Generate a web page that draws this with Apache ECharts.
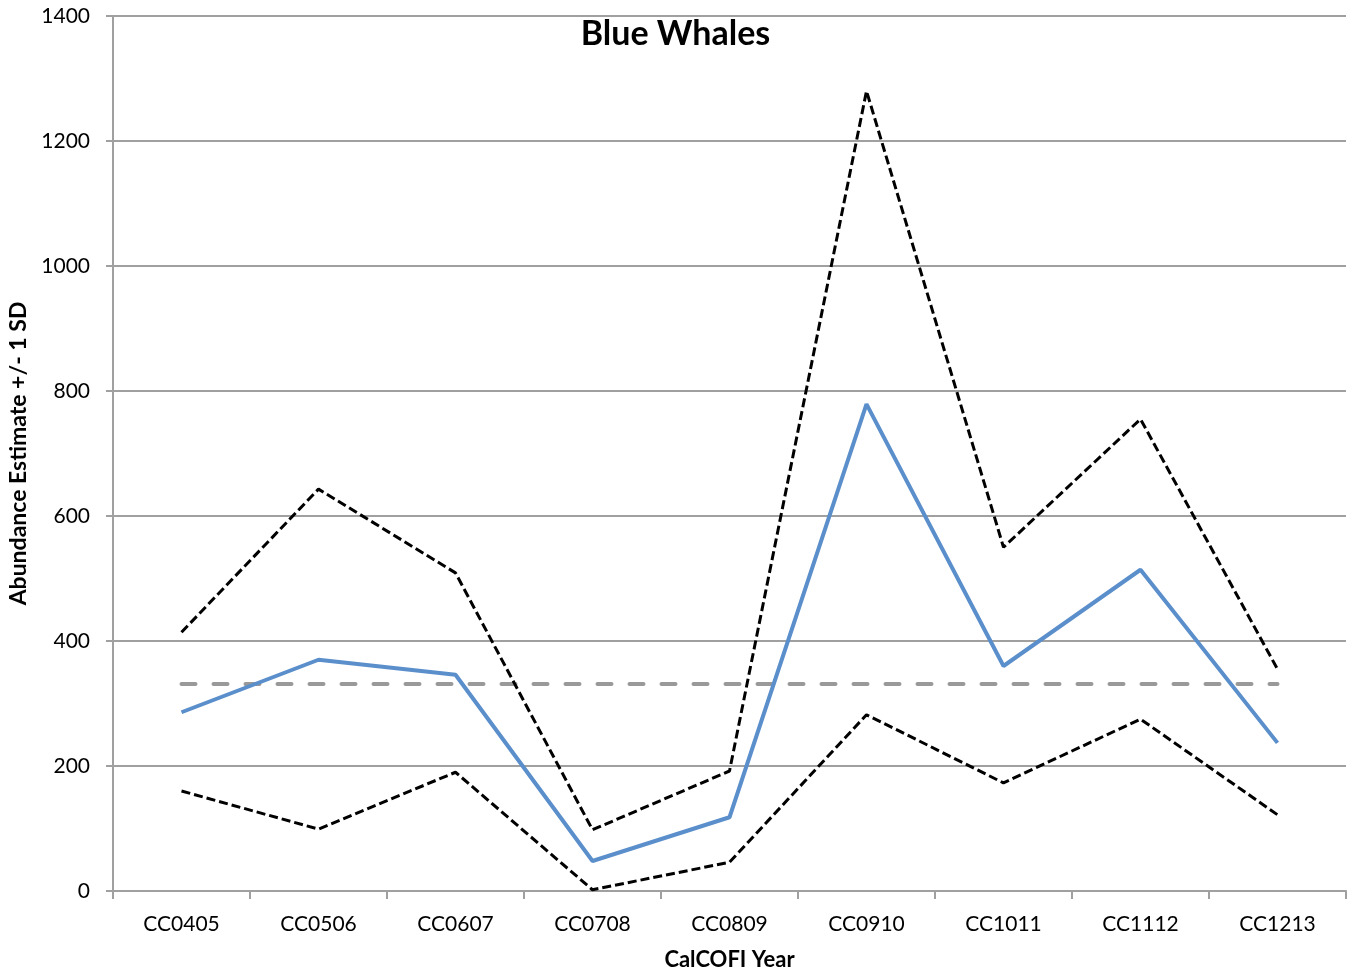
<!DOCTYPE html>
<html>
<head>
<meta charset="utf-8">
<script src="https://cdn.jsdelivr.net/npm/echarts@6/dist/echarts.min.js"></script>
<style>
  html, body { margin: 0; padding: 0; background: #fff; }
  #chart { width: 1351px; height: 972px; }
</style>
</head>
<body>
<div id="chart"></div>
<script>
// CalCOFI cruise labels
const years = ['CC0405', 'CC0506', 'CC0607', 'CC0708', 'CC0809', 'CC0910', 'CC1011', 'CC1112', 'CC1213'];
// Abundance estimate and +/- 1 SD bounds
const estimate = [286, 370, 346, 48, 118, 779, 360, 514, 237];
const upperSD = [414, 643, 509, 98, 192, 1280, 550, 755, 355];
const lowerSD = [160, 99, 190, 2, 46, 282, 173, 275, 122];
// Long-term mean abundance
const overallMean = 331;

const FONT = 'Lato, "Open Sans", sans-serif';

const chart = echarts.init(document.getElementById('chart'), null, { renderer: 'canvas' });

chart.setOption({
  animation: false,
  title: {
    text: 'Blue Whales',
    left: 'center',
    top: 12,
    textStyle: { fontFamily: FONT, fontSize: 34, fontWeight: 'bold', color: '#000' }
  },
  grid: { left: 113, right: 5, top: 16, bottom: 81, outerBoundsMode: 'none', containLabel: false },
  xAxis: {
    type: 'category',
    data: years,
    boundaryGap: true,
    name: 'CalCOFI Year',
    nameLocation: 'middle',
    nameGap: 58,
    nameTextStyle: { fontFamily: FONT, fontSize: 22, fontWeight: 'bold', color: '#000' },
    axisLine: { lineStyle: { color: '#a0a0a0', width: 2 } },
    axisTick: { show: true, length: 8, lineStyle: { color: '#a0a0a0', width: 2 } },
    axisLabel: { fontFamily: FONT, fontSize: 21, color: '#000', margin: 23 },
    splitLine: { show: false }
  },
  yAxis: {
    type: 'value',
    min: 0,
    max: 1400,
    interval: 200,
    name: 'Abundance Estimate +/- 1 SD',
    nameLocation: 'middle',
    nameGap: 80,
    nameTextStyle: { fontFamily: FONT, fontSize: 23, fontWeight: 'bold', color: '#000' },
    axisLine: { show: true, lineStyle: { color: '#a0a0a0', width: 2 } },
    axisTick: { show: true, length: 7, lineStyle: { color: '#a0a0a0', width: 2 } },
    axisLabel: { fontFamily: FONT, fontSize: 21, color: '#000', margin: 23, formatter: v => String(v) },
    splitLine: { show: true, lineStyle: { color: '#a0a0a0', width: 2 } }
  },
  series: [
    {
      name: 'Upper SD',
      type: 'line',
      data: upperSD,
      symbol: 'none',
      lineStyle: { color: '#000', width: 3, type: [9, 4] },
      z: 3
    },
    {
      name: 'Lower SD',
      type: 'line',
      data: lowerSD,
      symbol: 'none',
      lineStyle: { color: '#000', width: 3, type: [9, 4] },
      z: 3
    },
    {
      name: 'Estimate',
      type: 'line',
      data: estimate,
      symbol: 'none',
      lineStyle: { color: '#5b8fcb', width: 4 },
      z: 4,
      markLine: {
        silent: true,
        symbol: ['none', 'none'],
        label: { show: false },
        lineStyle: { color: '#999999', width: 4, type: [14, 18], cap: 'round' },
        data: [[
          { coord: [0, overallMean] },
          { coord: [years.length - 1, overallMean] }
        ]],
        z: 2
      }
    }
  ]
});
</script>
</body>
</html>
